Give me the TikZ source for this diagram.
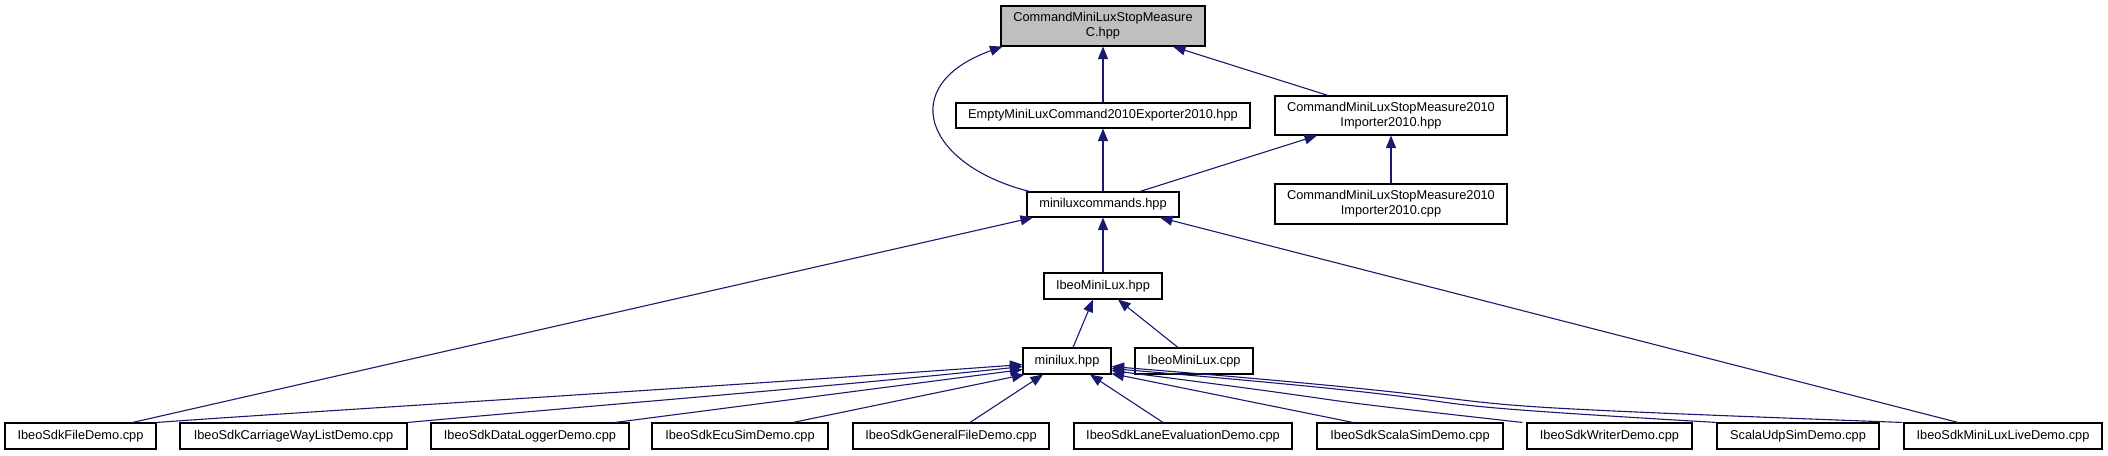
\documentclass[tikz,border=0pt]{standalone}
\usepackage{fontspec}
\setmainfont{Liberation Sans}
\usetikzlibrary{arrows.meta,calc}
\definecolor{edgeblue}{RGB}{25,25,112}
\definecolor{topgray}{RGB}{191,191,191}
\tikzset{
  box/.style={draw=black, line width=1.1pt, fill=white, inner sep=0pt, align=center,
    font=\fontsize{12.8}{15}\selectfont},
  edge/.style={draw=edgeblue, line width=1.1pt,
    -{Triangle[length=12.5pt,width=10pt]}, fill=none},
}
\begin{document}
\begin{tikzpicture}[x=1pt,y=-1pt]
\useasboundingbox (0,0) rectangle (2108,455);
% nodes
\node[box, fill=topgray, minimum width=204pt, minimum height=40pt] (top) at (1103,26) {CommandMiniLuxStopMeasure\\C.hpp};
\node[box, minimum width=294pt, minimum height=25pt] (empty) at (1103,115.5) {EmptyMiniLuxCommand2010Exporter2010.hpp};
\node[box, minimum width=232pt, minimum height=39pt] (imph) at (1391,115.5) {CommandMiniLuxStopMeasure2010\\Importer2010.hpp};
\node[box, minimum width=232pt, minimum height=40pt] (impc) at (1391,204) {CommandMiniLuxStopMeasure2010\\Importer2010.cpp};
\node[box, minimum width=152pt, minimum height=25pt] (mlc) at (1103,204.5) {miniluxcommands.hpp};
\node[box, minimum width=118pt, minimum height=26pt] (imlh) at (1103,286) {IbeoMiniLux.hpp};
\node[box, minimum width=88pt, minimum height=26pt] (mlh) at (1067,361) {minilux.hpp};
\node[box, minimum width=118pt, minimum height=26pt] (imlc) at (1194,361) {IbeoMiniLux.cpp};
\node[box, minimum width=151pt, minimum height=26pt] (filedemo) at (80.5,436) {IbeoSdkFileDemo.cpp};
\node[box, minimum width=227pt, minimum height=26pt] (carriage) at (293.5,436) {IbeoSdkCarriageWayListDemo.cpp};
\node[box, minimum width=198pt, minimum height=26pt] (logger) at (530,436) {IbeoSdkDataLoggerDemo.cpp};
\node[box, minimum width=176pt, minimum height=26pt] (ecusim) at (740,436) {IbeoSdkEcuSimDemo.cpp};
\node[box, minimum width=196pt, minimum height=26pt] (general) at (951,436) {IbeoSdkGeneralFileDemo.cpp};
\node[box, minimum width=218pt, minimum height=26pt] (lane) at (1183,436) {IbeoSdkLaneEvaluationDemo.cpp};
\node[box, minimum width=186pt, minimum height=26pt] (scalasim) at (1410,436) {IbeoSdkScalaSimDemo.cpp};
\node[box, minimum width=165pt, minimum height=26pt] (writer) at (1609.5,436) {IbeoSdkWriterDemo.cpp};
\node[box, minimum width=162pt, minimum height=26pt] (scalaudp) at (1798,436) {ScalaUdpSimDemo.cpp};
\node[box, minimum width=198pt, minimum height=26pt] (live) at (2003,436) {IbeoSdkMiniLuxLiveDemo.cpp};
% upper edges
\draw[edge] (empty.north) -- (top.south);
\draw[edge] ($(imph.north)+(-63,0)$) -- ($(top.south)+(70,0)$);
\draw[edge] ($(mlc.north west)+(3,0)$) .. controls (925,165) and (895,85) .. ($(top.south west)+(2,0)$);
\draw[edge] (mlc.north) -- (empty.south);
\draw[edge] ($(mlc.north)+(37,0)$) -- ($(imph.south)+(-74,0)$);
\draw[edge] (impc.north) -- (imph.south);
\draw[edge] (imlh.north) -- (mlc.south);
\draw[edge] ($(filedemo.north)+(52,0)$) -- ($(mlc.south)+(-70,0)$);
\draw[edge] ($(live.north)+(-45,0)$) -- ($(mlc.south)+(57,0)$);
\draw[edge] ($(mlh.north)+(6,0)$) -- ($(imlh.south)+(-10,0)$);
\draw[edge] ($(imlc.north)+(-16,0)$) -- ($(imlh.south)+(15,0)$);
% edges into minilux.hpp
\draw[edge] (filedemo.north east) .. controls (300,412) and (700,388) .. ($(mlh.south west)+(0,-10)$);
\draw[edge] (carriage.north east) .. controls (600,405) and (850,385) .. ($(mlh.south west)+(0,-8)$);
\draw[edge] ($(logger.north)+(85,0)$) -- ($(mlh.south west)+(0,-5)$);
\draw[edge] ($(ecusim.north)+(53,0)$) -- ($(mlh.south west)+(2,0)$);
\draw[edge] ($(general.north)+(19,0)$) -- ($(mlh.south)+(-24,0)$);
\draw[edge] ($(lane.north)+(-20,0)$) -- ($(mlh.south)+(23,0)$);
\draw[edge] ($(scalasim.north)+(-57,0)$) -- ($(mlh.south east)+(0,-1)$);
\draw[edge] ($(writer.north west)+(-4,0)$) .. controls (1250,392) and (1420,410) .. ($(mlh.south east)+(0,-4)$);
\draw[edge] (scalaudp.north west) .. controls (1300,398) and (1600,410) .. ($(mlh.south east)+(0,-6)$);
\draw[edge] ($(live.north west)+(-1,0)$) .. controls (1300,400) and (1650,410) .. ($(mlh.south east)+(0,-8)$);
\end{tikzpicture}
\end{document}
